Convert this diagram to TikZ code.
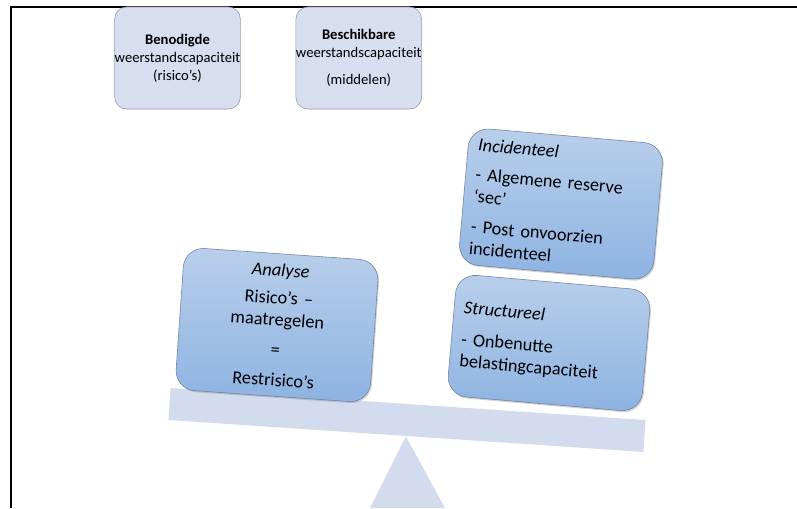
\documentclass[tikz,border=0pt]{standalone}
\usepackage{fontspec}
\setmainfont{Carlito}
\usetikzlibrary{positioning,shadows}

\definecolor{toplight}{HTML}{D6DEEF}
\definecolor{topedge}{HTML}{8F9BB0}
\definecolor{panhigh}{HTML}{B9CFEB}
\definecolor{panlow}{HTML}{8DB3E2}
\definecolor{panedge}{HTML}{6F829E}
\definecolor{scalegrey}{HTML}{D3DCEE}

\begin{document}
\begin{tikzpicture}[x=0.025cm, y=-0.025cm,
				topbox/.style={rectangle, rounded corners=0.3cm, draw=topedge, fill=toplight, minimum width=3.125cm, minimum height=2.55cm, inner xsep=0pt, align=center, font=\fontsize{10.4}{12.8}\selectfont},
				pan/.style={rectangle, rounded corners=0.5cm, draw=panedge, top color=panhigh, bottom color=panlow, text width=4.375cm, inner sep=0.25cm, font=\fontsize{13}{15.5}\selectfont, drop shadow={opacity=0.35, shadow xshift=0.03cm, shadow yshift=-0.04cm}},
				beamstyle/.style={rectangle, fill=scalegrey, minimum width=11.9cm, minimum height=0.8cm, inner sep=0pt}
			]
			\useasboundingbox (0,0) rectangle (797,508);
			% frame
			\draw[line width=1.5pt] (11,508) -- (11,7) -- (797,7);
			% top boxes
			\node[topbox] (benodigd) at (177.5,58) {\textbf{Benodigde}\\weerstandscapaciteit\\(risico’s)};
			\node[topbox] (beschikbaar) [right=1.375cm of benodigd] {\textbf{Beschikbare}\\weerstandscapaciteit\\[6pt](middelen)};
			% scale
			\node[beamstyle, rotate=-3.85] (beam) at (407,420) {};
			\fill[scalegrey] (beam.south) -- (370,508) -- (445,508) -- cycle;
			% pans
			\node[pan, align=center, minimum height=3.125cm, rotate=-4] (analyse) at (277,325) {\textit{Analyse}\\[4pt]Risico’s --\\maatregelen\\[6pt]=\\[6pt]Restrisico’s};
			\node[pan, align=left, minimum height=3.05cm, rotate=-5] (structureel) at (549,343) {\textit{Structureel}\\[7pt]- Onbenutte\\belastingcapaciteit};
			\node[pan, align=left, minimum height=2.75cm, rotate=-5] (incidenteel) at (561,204) {\textit{Incidenteel}\\[6pt]- Algemene reserve\\`sec'\\[6pt]- Post onvoorzien\\incidenteel};
			\end{tikzpicture}
\end{document}
